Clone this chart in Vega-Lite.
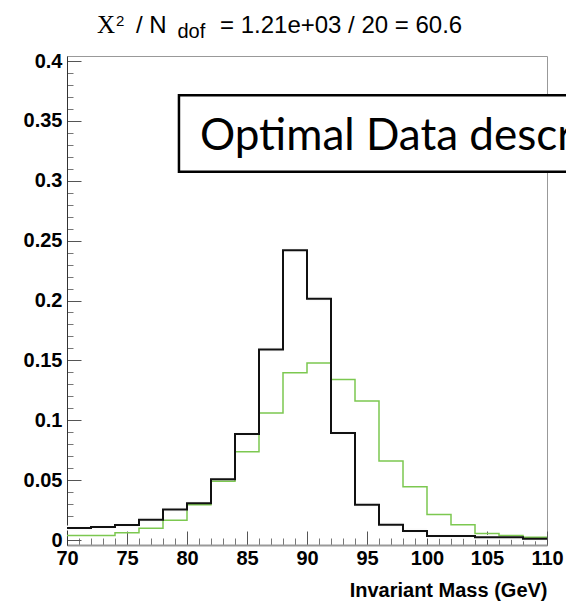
{
  "$schema": "https://vega.github.io/schema/vega-lite/v6.json",
  "width": 480,
  "height": 489,
  "autosize": {"type": "none"},
  "padding": {"left": 67, "top": 56, "right": 19, "bottom": 60},
  "background": "white",
  "config": {"view": {"stroke": "#999", "strokeWidth": 1}},
  "datasets": {
    "hist": [
      {"lo": 70, "hi": 72, "data": 0.0100, "model": 0.0038},
      {"lo": 72, "hi": 74, "data": 0.0108, "model": 0.0038},
      {"lo": 74, "hi": 76, "data": 0.0125, "model": 0.0060},
      {"lo": 76, "hi": 78, "data": 0.0170, "model": 0.0098},
      {"lo": 78, "hi": 80, "data": 0.0254, "model": 0.0164},
      {"lo": 80, "hi": 82, "data": 0.0306, "model": 0.0294},
      {"lo": 82, "hi": 84, "data": 0.0508, "model": 0.0490},
      {"lo": 84, "hi": 86, "data": 0.0886, "model": 0.0736},
      {"lo": 86, "hi": 88, "data": 0.1590, "model": 0.1060},
      {"lo": 88, "hi": 90, "data": 0.2420, "model": 0.1396},
      {"lo": 90, "hi": 92, "data": 0.2015, "model": 0.1478},
      {"lo": 92, "hi": 94, "data": 0.0893, "model": 0.1340},
      {"lo": 94, "hi": 96, "data": 0.0294, "model": 0.1160},
      {"lo": 96, "hi": 98, "data": 0.0127, "model": 0.0660},
      {"lo": 98, "hi": 100, "data": 0.0076, "model": 0.0445},
      {"lo": 100, "hi": 102, "data": 0.0033, "model": 0.0212},
      {"lo": 102, "hi": 104, "data": 0.0033, "model": 0.0128},
      {"lo": 104, "hi": 106, "data": 0.0022, "model": 0.0055},
      {"lo": 106, "hi": 108, "data": 0.0022, "model": 0.0038},
      {"lo": 108, "hi": 110, "data": 0.0010, "model": 0.0022}
    ]
  },
  "resolve": {"axis": {"x": "independent", "y": "independent"}},
  "layer": [
    {
      "data": {"name": "hist"},
      "mark": {"type": "bar", "fill": "#fbfbfb", "stroke": null},
      "encoding": {
        "x": {"field": "lo", "type": "quantitative",
              "scale": {"domain": [70, 110], "nice": false, "zero": false},
              "axis": {"orient": "bottom", "values": [70,71,72,73,74,75,76,77,78,79,80,81,82,83,84,85,86,87,88,89,90,91,92,93,94,95,96,97,98,99,100,101,102,103,104,105,106,107,108,109,110],
                       "tickSize": -7, "tickColor": "#777", "labels": false, "domain": false, "grid": false, "title": null}},
        "x2": {"field": "hi"},
        "y": {"field": "data", "type": "quantitative",
              "scale": {"domain": [0, 0.4], "nice": false},
              "axis": {"orient": "left", "values": [0,0.01,0.02,0.03,0.04,0.05,0.06,0.07,0.08,0.09,0.1,0.11,0.12,0.13,0.14,0.15,0.16,0.17,0.18,0.19,0.2,0.21,0.22,0.23,0.24,0.25,0.26,0.27,0.28,0.29,0.3,0.31,0.32,0.33,0.34,0.35,0.36,0.37,0.38,0.39,0.4],
                       "tickSize": -6, "tickColor": "#777", "labels": false, "domain": false, "grid": false, "title": null}}
      }
    },
    {
      "data": {"name": "hist"},
      "transform": [{"fold": ["lo", "hi"], "as": ["edgeKey", "edge"]}],
      "mark": {"type": "line", "color": "#7cc850", "strokeWidth": 1.5},
      "encoding": {
        "x": {"field": "edge", "type": "quantitative", "axis": null},
        "y": {"field": "model", "type": "quantitative", "axis": null},
        "order": [{"field": "lo", "type": "quantitative"}, {"field": "edgeKey", "sort": "descending"}]
      }
    },
    {
      "data": {"name": "hist"},
      "transform": [{"fold": ["lo", "hi"], "as": ["edgeKey", "edge"]}],
      "mark": {"type": "line", "color": "#111", "strokeWidth": 2},
      "encoding": {
        "x": {"field": "edge", "type": "quantitative",
              "axis": {"orient": "bottom", "values": [70,75,80,85,90,95,100,105,110],
                       "tickSize": -14, "tickColor": "#555", "domainColor": "#999", "domainWidth": 2,
                       "labelFont": "Liberation Sans", "labelFontWeight": "bold", "labelFontSize": 20, "labelColor": "#000",
                       "labelPadding": 17, "labelOverlap": false, "labelFlush": false, "grid": false,
                       "title": "Invariant Mass (GeV)", "titleFont": "Liberation Sans", "titleFontWeight": "bold",
                       "titleFontSize": 20, "titleColor": "#000", "titleAnchor": "end", "titleAlign": "right", "titlePadding": 12}},
        "y": {"field": "data", "type": "quantitative",
              "axis": {"orient": "left", "values": [0,0.05,0.1,0.15,0.2,0.25,0.3,0.35,0.4], "format": "~g",
                       "tickSize": -14, "tickColor": "#555", "domainColor": "#333", "domainWidth": 1,
                       "labelFont": "Liberation Sans", "labelFontWeight": "bold", "labelFontSize": 20, "labelColor": "#000",
                       "labelPadding": 19, "labelOverlap": false, "labelFlush": false, "grid": false, "title": null}},
        "order": [{"field": "lo", "type": "quantitative"}, {"field": "edgeKey", "sort": "descending"}]
      }
    },
    {
      "data": {"values": [{}]},
      "mark": {"type": "rect", "fill": "white", "stroke": "#000", "strokeWidth": 2.5},
      "encoding": {
        "x": {"datum": 79.33, "type": "quantitative", "axis": null},
        "x2": {"datum": 130},
        "y": {"datum": 0.3714, "type": "quantitative", "axis": null},
        "y2": {"datum": 0.3076}
      }
    },
    {
      "data": {"values": [{}]},
      "mark": {"type": "text", "text": "Optimal Data description", "font": "Lato", "fontSize": 44, "align": "left", "baseline": "alphabetic", "color": "#000"},
      "encoding": {
        "x": {"datum": 81.08, "type": "quantitative", "axis": null},
        "y": {"datum": 0.3256, "type": "quantitative", "axis": null}
      }
    },
    {
      "data": {"values": [{}]},
      "mark": {"type": "text", "text": "X", "font": "Liberation Serif", "fontSize": 25, "align": "left", "baseline": "alphabetic", "color": "#000"},
      "encoding": {
        "x": {"datum": 72.5, "type": "quantitative", "axis": null},
        "y": {"datum": 0.4237, "type": "quantitative", "axis": null}
      }
    },
    {
      "data": {"values": [{}]},
      "mark": {"type": "text", "text": "2", "font": "Liberation Sans", "fontSize": 15, "align": "left", "baseline": "alphabetic", "color": "#000"},
      "encoding": {
        "x": {"datum": 74.08, "type": "quantitative", "axis": null},
        "y": {"datum": 0.4294, "type": "quantitative", "axis": null}
      }
    },
    {
      "data": {"values": [{}]},
      "mark": {"type": "text", "text": "/ N", "font": "Liberation Sans", "fontSize": 24, "align": "left", "baseline": "alphabetic", "color": "#000"},
      "encoding": {
        "x": {"datum": 75.75, "type": "quantitative", "axis": null},
        "y": {"datum": 0.4237, "type": "quantitative", "axis": null}
      }
    },
    {
      "data": {"values": [{}]},
      "mark": {"type": "text", "text": "dof", "font": "Liberation Sans", "fontSize": 20, "align": "left", "baseline": "alphabetic", "color": "#000"},
      "encoding": {
        "x": {"datum": 79.2, "type": "quantitative", "axis": null},
        "y": {"datum": 0.4188, "type": "quantitative", "axis": null}
      }
    },
    {
      "data": {"values": [{}]},
      "mark": {"type": "text", "text": "= 1.21e+03 / 20 = 60.6", "font": "Liberation Sans", "fontSize": 24, "align": "left", "baseline": "alphabetic", "color": "#000"},
      "encoding": {
        "x": {"datum": 82.75, "type": "quantitative", "axis": null},
        "y": {"datum": 0.4237, "type": "quantitative", "axis": null}
      }
    }
  ]
}
